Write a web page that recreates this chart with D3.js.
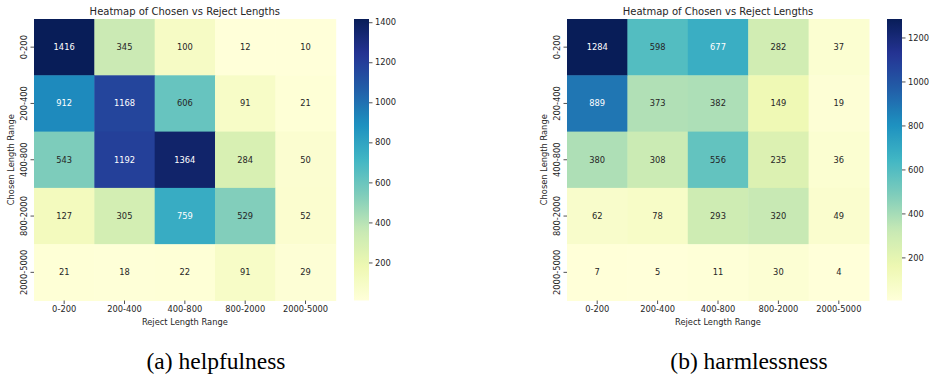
<!DOCTYPE html>
<html>
<head>
<meta charset="utf-8">
<script src="https://cdn.jsdelivr.net/npm/d3@7"></script>
<style>
  html, body { margin: 0; padding: 0; background: #fff; }
  svg { display: block; }
  text { font-family: "DejaVu Sans", sans-serif; fill: #262626; }
  .caption { font-family: "Liberation Serif", "Times New Roman", serif; fill: #000; }
</style>
</head>
<body>
<svg id="fig" width="932" height="380"></svg>
<script>
// Length buckets (rows = chosen response, columns = rejected response)
const rejectRanges = ["0-200", "200-400", "400-800", "800-2000", "2000-5000"];
const chosenRanges = ["0-200", "200-400", "400-800", "800-2000", "2000-5000"];

// Pair counts per bucket, row by row
const helpfulnessCounts = [
  [1416, 345, 100, 12, 10],
  [912, 1168, 606, 91, 21],
  [543, 1192, 1364, 284, 50],
  [127, 305, 759, 529, 52],
  [21, 18, 22, 91, 29]
];
const harmlessnessCounts = [
  [1284, 598, 677, 282, 37],
  [889, 373, 382, 149, 19],
  [380, 308, 556, 235, 36],
  [62, 78, 293, 320, 49],
  [7, 5, 11, 30, 4]
];

// Colour bar ticks
const helpfulnessTicks = [200, 400, 600, 800, 1000, 1200, 1400];
const harmlessnessTicks = [200, 400, 600, 800, 1000, 1200];

const chartTitle = "Heatmap of Chosen vs Reject Lengths";
const xLabel = "Reject Length Range";
const yLabel = "Chosen Length Range";

// YlGnBu, 9-class
const ylgnbu = ["#ffffd9", "#edf8b1", "#c7e9b4", "#7fcdbb", "#41b6c4",
                "#1d91c0", "#225ea8", "#253494", "#081d58"];

const svg = d3.select("#fig");
const FS = 8.3;

function luminance(c) {
  const rgb = d3.rgb(c);
  const lin = v => { v /= 255; return v <= 0.03928 ? v / 12.92 : Math.pow((v + 0.055) / 1.055, 2.4); };
  return 0.2126 * lin(rgb.r) + 0.7152 * lin(rgb.g) + 0.0722 * lin(rgb.b);
}

function drawHeatmap(p) {
  const g = svg.append("g");
  const cells = [];
  p.counts.forEach((row, i) => row.forEach((v, j) => cells.push({ r: chosenRanges[i], c: rejectRanges[j], v })));
  const vmin = d3.min(cells, d => d.v), vmax = d3.max(cells, d => d.v);

  const x = d3.scaleBand().domain(rejectRanges).range([p.left, p.right]);
  const y = d3.scaleBand().domain(chosenRanges).range([p.top, p.bottom]);
  const color = d3.scaleLinear()
    .domain(ylgnbu.map((_, k) => vmin + (vmax - vmin) * k / (ylgnbu.length - 1)))
    .range(ylgnbu)
    .interpolate(d3.interpolateRgb)
    .clamp(true);

  // cells
  g.selectAll("rect.cell").data(cells).join("rect")
    .attr("class", "cell")
    .attr("x", d => x(d.c)).attr("y", d => y(d.r))
    .attr("width", x.bandwidth() + 0.5).attr("height", y.bandwidth() + 0.5)
    .attr("fill", d => color(d.v));

  // annotations
  g.selectAll("text.annot").data(cells).join("text")
    .attr("class", "annot")
    .attr("x", d => x(d.c) + x.bandwidth() / 2)
    .attr("y", d => y(d.r) + y.bandwidth() / 2)
    .attr("text-anchor", "middle").attr("dy", "0.36em")
    .style("font-size", FS + "px")
    .style("fill", d => luminance(color(d.v)) > 0.408 ? "#262626" : "#ffffff")
    .text(d => d.v);

  // x axis
  const gx = g.append("g").attr("transform", `translate(0,${p.bottom})`)
    .call(d3.axisBottom(x).tickSize(3.5).tickPadding(2.5));
  gx.select(".domain").remove();
  gx.selectAll(".tick line").attr("stroke", "#262626").attr("stroke-width", 0.8);
  gx.selectAll(".tick text").style("font-size", FS + "px").style("font-family", "DejaVu Sans").attr("fill", "#262626");

  // y axis (rotated labels)
  const gy = g.append("g").attr("transform", `translate(${p.left},0)`)
    .call(d3.axisLeft(y).tickSize(3.5).tickFormat(d => d));
  gy.select(".domain").remove();
  gy.selectAll(".tick line").attr("stroke", "#262626").attr("stroke-width", 0.8);
  gy.selectAll(".tick text")
    .attr("x", null).attr("dy", null)
    .attr("transform", "translate(-7.5,0) rotate(-90)")
    .attr("text-anchor", "middle").attr("y", 0)
    .style("font-size", FS + "px").style("font-family", "DejaVu Sans").attr("fill", "#262626");

  // axis titles and chart title
  const cx = (p.left + p.right) / 2, cy = (p.top + p.bottom) / 2;
  g.append("text").attr("x", cx).attr("y", p.bottom + 24.3)
    .attr("text-anchor", "middle").style("font-size", FS + "px").text(xLabel);
  g.append("text").attr("transform", `translate(${p.left - 20},${cy}) rotate(-90)`)
    .attr("text-anchor", "middle").style("font-size", FS + "px").text(yLabel);
  g.append("text").attr("x", cx).attr("y", p.top - 4.4)
    .attr("text-anchor", "middle").style("font-size", "10px").text(chartTitle);

  // colour bar
  const cb = p.cbar;
  const cy2 = d3.scaleLinear().domain([vmin, vmax]).range([p.bottom, p.top]);
  const gradId = "grad-" + p.id;
  const grad = svg.append("defs").append("linearGradient").attr("id", gradId)
    .attr("x1", 0).attr("y1", 1).attr("x2", 0).attr("y2", 0);
  d3.range(0, 1.0001, 0.02).forEach(t => {
    grad.append("stop").attr("offset", t).attr("stop-color", color(vmin + t * (vmax - vmin)));
  });
  g.append("rect").attr("x", cb).attr("y", p.top).attr("width", 15)
    .attr("height", p.bottom - p.top).attr("fill", `url(#${gradId})`);
  const gc = g.append("g").attr("transform", `translate(${cb + 15},0)`)
    .call(d3.axisRight(cy2).tickValues(p.ticks).tickSize(3.5).tickPadding(2.5).tickFormat(d3.format("d")));
  gc.select(".domain").remove();
  gc.selectAll(".tick line").attr("stroke", "#262626").attr("stroke-width", 0.8);
  gc.selectAll(".tick text").style("font-size", FS + "px").style("font-family", "DejaVu Sans").attr("fill", "#262626");

  // caption
  svg.append("text").attr("class", "caption")
    .attr("x", p.captionX).attr("y", 369)
    .attr("text-anchor", "middle").style("font-size", "23.5px")
    .text(p.caption);
}

drawHeatmap({
  id: "a", counts: helpfulnessCounts, ticks: helpfulnessTicks,
  left: 34, right: 335.7, top: 19, bottom: 300.5, cbar: 354,
  caption: "(a) helpfulness", captionX: 216
});
drawHeatmap({
  id: "b", counts: harmlessnessCounts, ticks: harmlessnessTicks,
  left: 567, right: 869, top: 19, bottom: 300.5, cbar: 887,
  caption: "(b) harmlessness", captionX: 749
});
</script>
</body>
</html>
